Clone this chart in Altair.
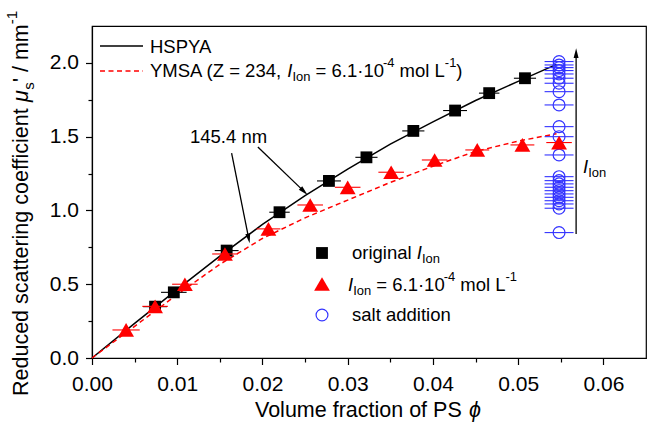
import math
import altair as alt
import pandas as pd

# ---------------- data ----------------
# original ionic strength (filled squares)
orig_phi = [0.0074, 0.0096, 0.0158, 0.0220, 0.0278, 0.0322, 0.0377, 0.0426, 0.0466, 0.0508]
orig_mu = [0.348, 0.445, 0.728, 0.988, 1.200, 1.360, 1.539, 1.677, 1.795, 1.896]
orig_err = [0.0014, 0.0015, 0.0014, 0.0012, 0.0014, 0.0013, 0.0013, 0.0014, 0.0012, 0.0013]

# I_Ion = 6.1e-4 mol/L (filled triangles)
low_phi = [0.0040, 0.0074, 0.0109, 0.0156, 0.0207, 0.0256, 0.0300, 0.0351, 0.0402, 0.0452, 0.0505, 0.0548]
low_mu = [0.190, 0.350, 0.500, 0.705, 0.875, 1.037, 1.157, 1.259, 1.342, 1.410, 1.444, 1.460]
low_err = [0.0016, 0.0015, 0.0015, 0.0015, 0.0014, 0.0015, 0.0015, 0.0015, 0.0015, 0.0014, 0.0014, 0.0015]

# salt addition series (open circles), all at the same volume fraction
salt_mu = [2.009, 1.986, 1.968, 1.948, 1.925, 1.896, 1.862, 1.805, 1.715,
           1.568, 1.500, 1.376,
           1.229, 1.202, 1.180, 1.157, 1.134, 1.112, 1.089, 1.066, 1.044, 1.015,
           0.850]
salt_phi_value = 0.0548
salt_err = 0.0017

# model curves
hspya_phi = [0.0, 0.005, 0.010, 0.015, 0.020, 0.025, 0.030, 0.035, 0.040, 0.045, 0.050, 0.0545]
hspya_mu = [0.0, 0.235, 0.465, 0.690, 0.905, 1.100, 1.280, 1.450, 1.600, 1.745, 1.875, 1.990]
ymsa_phi = [0.0, 0.005, 0.010, 0.015, 0.020, 0.025, 0.030, 0.035, 0.040, 0.045, 0.050, 0.0545]
ymsa_mu = [0.0, 0.215, 0.430, 0.635, 0.810, 0.950, 1.070, 1.190, 1.300, 1.400, 1.470, 1.520]

# annotation arrows (start -> tip), in data units
arrow_phi0 = [0.01946, 0.01638, 0.0568]
arrow_mu0 = [1.430, 1.388, 0.840]
arrow_phi1 = [0.0253, 0.0185, 0.0568]
arrow_mu1 = [1.105, 0.777, 2.100]

# axis ticks
x_ticks = [0.0, 0.005, 0.01, 0.015, 0.02, 0.025, 0.03, 0.035, 0.04, 0.045, 0.05, 0.055, 0.06]
y_ticks = [0.0, 0.25, 0.5, 0.75, 1.0, 1.25, 1.5, 1.75, 2.0]
x_domain = [0.0, 0.065]
y_domain = [0.0, 2.25]

# ---------------- layout ----------------
FONT = "Liberation Sans, Arial, Helvetica, sans-serif"
LEFT, TOP, W, H = 92, 26, 554, 332
RED = "#ff0000"
BLUE = "#3333ff"
PX_PER_X = W / (x_domain[1] - x_domain[0])
PX_PER_Y = H / (y_domain[1] - y_domain[0])
SQ_SIZE, TRI_SIZE, CIRC_SIZE = 140, 250, 140

one = pd.DataFrame({"k": [0]})

xscale = alt.Scale(domain=x_domain, nice=False, zero=False)
yscale = alt.Scale(domain=y_domain, nice=False, zero=False)

x_major = "abs(datum.value*100 - round(datum.value*100)) < 1e-6"
y_major = "abs(datum.value*2 - round(datum.value*2)) < 1e-6"

xaxis = alt.Axis(
    values=x_ticks, title=None, grid=False,
    labelExpr=f"({x_major}) ? format(datum.value, '.2f') : ''",
    tickSize={"condition": {"test": x_major, "value": 6.5}, "value": 4},
    labelPadding=9, labelFontSize=21, labelFont=FONT, labelColor="black",
    labelBaseline="top", labelFlush=False, labelOverlap=False,
    domainColor="black", domainWidth=1.2, tickColor="black", tickWidth=1.2,
)
yaxis = alt.Axis(
    values=y_ticks, title=None, grid=False,
    labelExpr=f"({y_major}) ? format(datum.value, '.1f') : ''",
    tickSize={"condition": {"test": y_major, "value": 6.5}, "value": 4},
    labelPadding=7, labelFontSize=21, labelFont=FONT, labelColor="black",
    labelFlush=False, labelOverlap=False,
    domainColor="black", domainWidth=1.2, tickColor="black", tickWidth=1.2,
)


def X(field):
    return alt.X(field, type="quantitative", scale=xscale, axis=xaxis, title=None)


def Y(field):
    return alt.Y(field, type="quantitative", scale=yscale, axis=yaxis, title=None)


# ---------------- data frames ----------------
orig_df = pd.DataFrame({"phi": orig_phi, "mu": orig_mu,
                        "lo": [p - e for p, e in zip(orig_phi, orig_err)],
                        "hi": [p + e for p, e in zip(orig_phi, orig_err)]})
low_df = pd.DataFrame({"phi": low_phi, "mu": low_mu,
                       "lo": [p - e for p, e in zip(low_phi, low_err)],
                       "hi": [p + e for p, e in zip(low_phi, low_err)]})
salt_df = pd.DataFrame({"phi": [salt_phi_value] * len(salt_mu), "mu": salt_mu,
                        "lo": [salt_phi_value - salt_err] * len(salt_mu),
                        "hi": [salt_phi_value + salt_err] * len(salt_mu)})
hspya_df = pd.DataFrame({"phi": hspya_phi, "mu": hspya_mu})
ymsa_df = pd.DataFrame({"phi": ymsa_phi, "mu": ymsa_mu})

# arrow shafts and heads
shaft_rows, head_rows = [], []
HEAD = 5.5  # px from head centre to tip
for i, (a, b, c, d) in enumerate(zip(arrow_phi0, arrow_mu0, arrow_phi1, arrow_mu1)):
    dxp = (c - a) * PX_PER_X
    dyp = -(d - b) * PX_PER_Y
    L = math.hypot(dxp, dyp)
    ux, uy = dxp / L, dyp / L
    ang = math.degrees(math.atan2(ux, -uy)) % 360
    hx = c - ux * HEAD / PX_PER_X
    hy = d + uy * HEAD / PX_PER_Y
    shaft_rows.append({"id": i, "order": 0, "phi": a, "mu": b})
    shaft_rows.append({"id": i, "order": 1, "phi": hx, "mu": hy})
    head_rows.append({"phi": hx, "mu": hy, "ang": ang})
shaft_df = pd.DataFrame(shaft_rows)
head_df = pd.DataFrame(head_rows)

# ---------------- layers ----------------
layers = []

layers.append(alt.Chart(hspya_df).mark_line(color="black", strokeWidth=1.5).encode(
    x=X("phi"), y=Y("mu")))
layers.append(alt.Chart(ymsa_df).mark_line(color=RED, strokeWidth=1.5, strokeDash=[5, 3.5]).encode(
    x=X("phi"), y=Y("mu")))

layers.append(alt.Chart(salt_df).mark_rule(color=BLUE, strokeWidth=1.1).encode(
    x=X("lo"), x2="hi", y=Y("mu")))
layers.append(alt.Chart(salt_df).mark_point(shape="circle", size=CIRC_SIZE, color=BLUE, filled=False,
                                            strokeWidth=1.2, opacity=1).encode(
    x=X("phi"), y=Y("mu")))

layers.append(alt.Chart(orig_df).mark_rule(color="black", strokeWidth=1.1).encode(
    x=X("lo"), x2="hi", y=Y("mu")))
layers.append(alt.Chart(orig_df).mark_point(shape="square", size=SQ_SIZE, color="black", filled=True,
                                            opacity=1).encode(
    x=X("phi"), y=Y("mu")))

layers.append(alt.Chart(low_df).mark_rule(color=RED, strokeWidth=1.1).encode(
    x=X("lo"), x2="hi", y=Y("mu")))
layers.append(alt.Chart(low_df).mark_point(shape="triangle-up", size=TRI_SIZE, color=RED, filled=True,
                                           opacity=1).encode(
    x=X("phi"), y=Y("mu")))

layers.append(alt.Chart(shaft_df).mark_line(color="black", strokeWidth=1.3).encode(
    x=X("phi"), y=Y("mu"), detail="id:N", order="order:Q"))
layers.append(alt.Chart(head_df).mark_point(shape="M0,-1L0.45,0.8L-0.45,0.8Z", size=120,
                                            color="black", filled=True, opacity=1).encode(
    x=X("phi"), y=Y("mu"), angle=alt.Angle("ang:Q", scale=None)))

# ---------------- text helpers ----------------
ADV = {" ": .278, "(": .333, ")": .333, ",": .278, ".": .278, "=": .584, "·": .278,
       "-": .333, "/": .278, "'": .191, "A": .667, "I": .278, "L": .556, "M": .833,
       "S": .667, "Y": .667, "Z": .611, "P": .667, "H": .722, "R": .722, "V": .667,
       "a": .556, "c": .5, "d": .556, "e": .556, "f": .278, "g": .556, "i": .222,
       "l": .222, "m": .833, "n": .556, "o": .556, "r": .333, "s": .5, "t": .278,
       "u": .556, "μ": .576, "ϕ": .65}


def adv(s, fs):
    return sum(ADV.get(ch, .556) for ch in s) * fs


def run(x0, yc, parts, size, vertical=False):
    """Lay out a line of mixed text (normal / italic / sub / sup)."""
    segs = []
    pos = x0
    for txt, style in parts:
        fs = size * 0.7 if style in ("sub", "sup") else size
        lead = len(txt) - len(txt.lstrip(" "))
        shift = 0.32 * size if style == "sub" else (-0.45 * size if style == "sup" else 0.0)
        start = pos + (-1 if vertical else 1) * lead * ADV[" "] * fs
        if vertical:
            segs.append(dict(x=yc + shift, y=start, text=txt.strip(" "), size=fs,
                             italic=(style == "i"), angle=270))
            pos -= adv(txt, fs)
        else:
            segs.append(dict(x=start, y=yc + shift, text=txt.strip(" "), size=fs,
                             italic=(style == "i"), angle=0))
            pos += adv(txt, fs)
    return segs


def text_layer(seg, color="black"):
    return alt.Chart(one).mark_text(
        text=seg["text"], align="left", baseline="middle", font=FONT,
        fontSize=seg["size"], fontStyle="italic" if seg["italic"] else "normal",
        angle=seg["angle"], color=color,
    ).encode(x=alt.value(seg["x"] - LEFT), y=alt.value(seg["y"] - TOP))


segments = []
# axis titles
segments += run(255, 411, [("Volume fraction of PS ", "n"), ("ϕ", "i")], 21.5)
segments += run(396, 22, [("Reduced scattering coefficient ", "n"), ("μ", "i"), ("s", "sub"),
                          ("' / mm", "n"), ("-1", "sup")], 21.5, vertical=True)
# line legend
segments += run(150, 47, [("HSPYA", "n")], 18.5)
segments += run(150, 71, [("YMSA (Z = 234, ", "n"), ("I", "i"), ("Ion", "sub"),
                          (" = 6.1·10", "n"), ("-4", "sup"), (" mol L", "n"), ("-1", "sup"),
                          (")", "n")], 18.5)
# marker legend
segments += run(352, 253, [("original ", "n"), ("I", "i"), ("Ion", "sub")], 18.5)
segments += run(348, 285, [("I", "i"), ("Ion", "sub"), (" = 6.1·10", "n"), ("-4", "sup"),
                           (" mol L", "n"), ("-1", "sup")], 18.5)
segments += run(352, 315, [("salt addition", "n")], 18.5)
# annotations
segments += run(190, 137, [("145.4 nm", "n")], 18.5)
segments += run(583, 167, [("I", "i"), ("Ion", "sub")], 18.5)

for seg in segments:
    layers.append(text_layer(seg))

# legend samples
layers.append(alt.Chart(one).mark_rule(color="black", strokeWidth=1.5).encode(
    x=alt.value(100 - LEFT), x2=alt.value(143 - LEFT), y=alt.value(46 - TOP)))
layers.append(alt.Chart(one).mark_rule(color=RED, strokeWidth=1.5, strokeDash=[5, 3.5]).encode(
    x=alt.value(100 - LEFT), x2=alt.value(143 - LEFT), y=alt.value(71 - TOP)))
layers.append(alt.Chart(one).mark_point(shape="square", size=SQ_SIZE, color="black", filled=True,
                                        opacity=1).encode(
    x=alt.value(322 - LEFT), y=alt.value(253 - TOP)))
layers.append(alt.Chart(one).mark_point(shape="triangle-up", size=TRI_SIZE, color=RED, filled=True,
                                        opacity=1).encode(
    x=alt.value(322 - LEFT), y=alt.value(284 - TOP)))
layers.append(alt.Chart(one).mark_point(shape="circle", size=CIRC_SIZE, color=BLUE, filled=False,
                                        strokeWidth=1.2, opacity=1).encode(
    x=alt.value(322 - LEFT), y=alt.value(315 - TOP)))

chart = alt.layer(*layers).properties(
    width=W, height=H,
    autosize=alt.AutoSizeParams(type="none"),
    padding={"left": LEFT, "top": TOP, "right": 649 - LEFT - W, "bottom": 430 - TOP - H},
    background="white",
).configure_view(stroke="black", strokeWidth=1.2)

chart.save("out.html", embed_options={"renderer": "svg", "actions": False})
